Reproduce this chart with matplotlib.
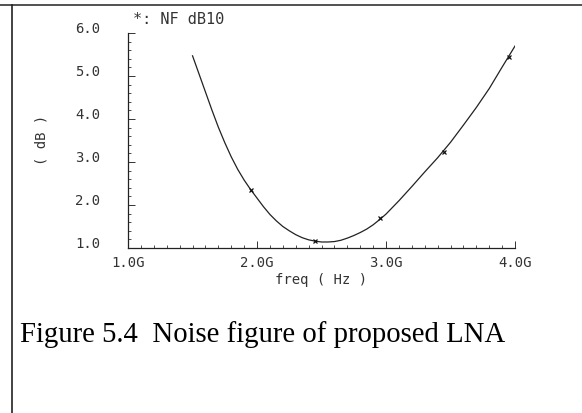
import matplotlib
matplotlib.use("Agg")
import matplotlib.pyplot as plt
from matplotlib.lines import Line2D
from matplotlib.ticker import MultipleLocator
import matplotlib.transforms as mtransforms

# noise figure curve (freq in GHz, NF in dB)
freq = [1.50, 1.55, 1.60, 1.65, 1.70, 1.75, 1.80, 1.85, 1.90, 1.95, 2.00,
        2.05, 2.10, 2.15, 2.20, 2.25, 2.30, 2.35, 2.40, 2.45, 2.50, 2.55,
        2.60, 2.65, 2.70, 2.75, 2.80, 2.85, 2.90, 2.95, 3.00, 3.10, 3.20,
        3.30, 3.40, 3.50, 3.60, 3.70, 3.80, 3.90, 4.00]
nf = [5.47, 5.05, 4.63, 4.21, 3.81, 3.45, 3.12, 2.83, 2.58, 2.36, 2.16,
      1.96, 1.78, 1.63, 1.50, 1.40, 1.31, 1.24, 1.19, 1.16, 1.14, 1.14,
      1.15, 1.18, 1.23, 1.29, 1.36, 1.44, 1.54, 1.66, 1.79, 2.10, 2.43,
      2.77, 3.10, 3.46, 3.86, 4.27, 4.71, 5.21, 5.70]

# marker positions
mark_freq = [1.95, 2.45, 2.95, 3.45, 3.95]
mark_nf = [2.35, 1.16, 1.70, 3.23, 5.44]

xticks = [1.0, 2.0, 3.0, 4.0]
xtick_labels = ["1.0G", "2.0G", "3.0G", "4.0G"]
yticks = [1.0, 2.0, 3.0, 4.0, 5.0, 6.0]
ytick_labels = ["1.0", "2.0", "3.0", "4.0", "5.0", "6.0"]

mono = "DejaVu Sans Mono"
gray = "#333333"

fig = plt.figure(figsize=(5.82, 4.13), dpi=100)
ax = fig.add_axes([0.220, 0.3995, 0.665, 0.5205])

ax.plot(freq, nf, color="#222222", lw=0.9)
ax.plot(mark_freq, mark_nf, ls="none", marker="x", ms=3.5, mew=0.9, color="#111111")

ax.set_xlim(1.0, 4.0)
ax.set_ylim(1.0, 6.0)
ax.spines["top"].set_visible(False)
ax.spines["right"].set_visible(False)
for s in ("left", "bottom"):
    ax.spines[s].set_linewidth(0.9)
    ax.spines[s].set_color("#222222")

ax.set_xticks(xticks)
ax.set_xticklabels(xtick_labels, family=mono, fontsize=10, color=gray)
ax.set_yticks(yticks)
ax.set_yticklabels(ytick_labels, family=mono, fontsize=10, color=gray)
ax.xaxis.set_minor_locator(MultipleLocator(0.1))
ax.yaxis.set_minor_locator(MultipleLocator(0.2))
ax.tick_params(which="major", direction="in", length=5, width=0.7, color="#333333")
ax.tick_params(which="minor", direction="in", length=2.5, width=0.6, color="#333333")
ax.tick_params(axis="x", pad=6)
ax.tick_params(axis="y", pad=20)

# y labels sit a little above their ticks
off = mtransforms.ScaledTranslation(0, 6 / 100, fig.dpi_scale_trans)
for lbl in ax.get_yticklabels():
    lbl.set_transform(lbl.get_transform() + off)

fig.text(321 / 582, 1 - 280 / 413, "freq ( Hz )", family=mono, fontsize=10,
         color=gray, ha="center", va="center")
fig.text(42 / 582, 1 - 140 / 413, "( dB )", family=mono, fontsize=10,
         color=gray, ha="center", va="center", rotation=90)
fig.text(133 / 582, 1 - 20 / 413, "*: NF dB10", family=mono, fontsize=11,
         color=gray, ha="left", va="center")

fig.text(20 / 582, 1 - 335 / 413, "Figure 5.4  Noise figure of proposed LNA",
         family="Liberation Serif", fontsize=20.7, color="black",
         ha="left", va="center")

# page frame lines
fig.add_artist(Line2D([0, 1], [1 - 5 / 413, 1 - 5 / 413], color="#333333", lw=1.2))
fig.add_artist(Line2D([12 / 582, 12 / 582], [0, 1 - 5 / 413], color="#222222", lw=1.2))

fig.savefig("out.png", dpi=100)
